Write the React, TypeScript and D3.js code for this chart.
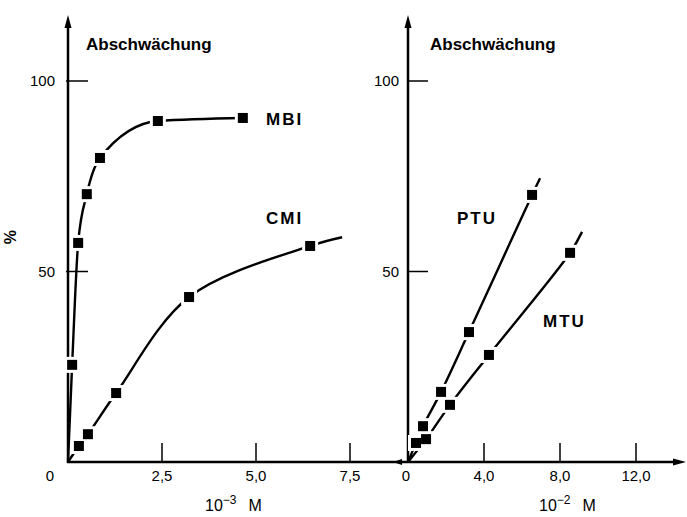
import React from 'react';
import * as d3 from 'd3';

// ---- data ----
const yTicks = [50, 100];
const yTickLabels = ['50', '100'];
const leftXTicks = [2.5, 5.0, 7.5];
const leftXTickLabels = ['2,5', '5,0', '7,5'];
const rightXTicks = [4, 8, 12];
const rightXTickLabels = ['4,0', '8,0', '12,0'];

// left panel (10^-3 M)
const mbiX = [0.11, 0.27, 0.5, 0.85, 2.39, 4.65];
const mbiY = [25.5, 57.5, 70.3, 79.8, 89.5, 90.3];
const cmiX = [0.29, 0.53, 1.28, 3.22, 6.44];
const cmiY = [4.2, 7.3, 18.1, 43.3, 56.7];
const cmiTail = [7.29, 59.0];

// right panel (10^-2 M)
const ptuX = [0.42, 0.79, 1.74, 3.21, 6.53];
const ptuY = [5.0, 9.4, 18.4, 34.1, 70.1];
const ptuTail = [6.95, 74.5];
const mtuX = [0.95, 2.21, 4.26, 8.53];
const mtuY = [6.0, 15.0, 28.1, 54.9];
const mtuTail = [9.16, 60.4];

const origin = [0, 0];

const W = 687;
const H = 517;
const FONT = "'Liberation Sans', Arial, sans-serif";

export default function App() {
  const xL = d3.scaleLinear().domain([0, 7.5]).range([68, 350]);
  const xR = d3.scaleLinear().domain([0, 12]).range([408, 636]);
  const y = d3.scaleLinear().domain([0, 100]).range([462, 81]);

  const mkPts = (xs: number[], ys: number[], tail: number[] | null) => {
    const pts: [number, number][] = [[origin[0], origin[1]]];
    xs.forEach((v, i) => pts.push([v, ys[i]]));
    if (tail) pts.push([tail[0], tail[1]]);
    return pts;
  };

  const lineFor = (xs: d3.ScaleLinear<number, number>, curve: d3.CurveFactory) =>
    d3
      .line<[number, number]>()
      .x((d) => xs(d[0]))
      .y((d) => y(d[1]))
      .curve(curve);

  const catmull = d3.curveCatmullRom.alpha(0.5);
  const series = [
    { xs: xL, X: mbiX, Y: mbiY, tail: null, curve: d3.curveMonotoneX },
    { xs: xL, X: cmiX, Y: cmiY, tail: cmiTail, curve: catmull },
    { xs: xR, X: ptuX, Y: ptuY, tail: ptuTail, curve: catmull },
    { xs: xR, X: mtuX, Y: mtuY, tail: mtuTail, curve: catmull },
  ];

  const ms = 10;
  const axisY = y(0);
  const topY = 15;

  return (
    <svg
      width={W}
      height={H}
      style={{ position: 'absolute', left: 0, top: 0, background: '#fff' }}
      fontFamily={FONT}
    >
      <rect width={W} height={H} fill="#fff" />

      {/* axes */}
      <g stroke="#000" strokeWidth={2.5} fill="none">
        <line x1={xL(0)} y1={axisY + 1} x2={xL(0)} y2={topY + 8} />
        <line x1={xR(0)} y1={axisY + 1} x2={xR(0)} y2={topY + 8} />
        <line x1={xL(0) - 1} y1={axisY} x2={676} y2={axisY} />
      </g>
      {/* arrowheads */}
      <g fill="#000">
        <path d={`M${xL(0)},${topY} L${xL(0) - 3.5},${topY + 13} L${xL(0) + 3.5},${topY + 13} Z`} />
        <path d={`M${xR(0)},${topY} L${xR(0) - 3.5},${topY + 13} L${xR(0) + 3.5},${topY + 13} Z`} />
        <path d={`M686,${axisY} L673,${axisY - 3.5} L673,${axisY + 3.5} Z`} />
        <path d={`M393,${axisY} L402,${axisY - 3} L402,${axisY + 3} Z`} />
      </g>

      {/* ticks */}
      <g stroke="#000" strokeWidth={1.5}>
        {yTicks.map((t) => (
          <line key={'l' + t} x1={xL(0) - 2} x2={xL(0) + 20} y1={y(t)} y2={y(t)} />
        ))}
        {yTicks.map((t) => (
          <line key={'r' + t} x1={xR(0)} x2={xR(0) + 20} y1={y(t)} y2={y(t)} />
        ))}
        {leftXTicks.map((t) => (
          <line key={'xl' + t} x1={xL(t)} x2={xL(t)} y1={axisY - 19} y2={axisY} />
        ))}
        {rightXTicks.map((t) => (
          <line key={'xr' + t} x1={xR(t)} x2={xR(t)} y1={axisY - 19} y2={axisY} />
        ))}
      </g>

      {/* tick labels */}
      <g fontSize={15} fill="#000">
        {yTicks.map((t, i) => (
          <text key={'tl' + t} x={xL(0) - 13} y={y(t) + 5} textAnchor="end">
            {yTickLabels[i]}
          </text>
        ))}
        {yTicks.map((t, i) => (
          <text key={'tr' + t} x={xR(0) - 9} y={y(t) + 5} textAnchor="end">
            {yTickLabels[i]}
          </text>
        ))}
        <text x={50} y={481} textAnchor="middle">0</text>
        {leftXTicks.map((t, i) => (
          <text key={'txl' + t} x={xL(t)} y={481} textAnchor="middle">
            {leftXTickLabels[i]}
          </text>
        ))}
        <text x={xR(0) - 2} y={481} textAnchor="middle">0</text>
        {rightXTicks.map((t, i) => (
          <text key={'txr' + t} x={xR(t)} y={481} textAnchor="middle">
            {rightXTickLabels[i]}
          </text>
        ))}
      </g>

      {/* axis titles */}
      <g fill="#000">
        <text x={86} y={50} fontSize={17} fontWeight="bold">Abschwächung</text>
        <text x={430} y={50} fontSize={17} fontWeight="bold">Abschwächung</text>
        <text
          x={12}
          y={237}
          fontSize={16}
          fontWeight="bold"
          textAnchor="middle"
          transform="rotate(-90 12 237)"
          dominantBaseline="middle"
        >
          %
        </text>
        <text x={205} y={511} fontSize={16}>
          10
          <tspan fontSize={12} dy={-7}>−3</tspan>
          <tspan dy={7} dx={12}>M</tspan>
        </text>
        <text x={539} y={511} fontSize={16}>
          10
          <tspan fontSize={12} dy={-7}>−2</tspan>
          <tspan dy={7} dx={12}>M</tspan>
        </text>
      </g>

      {/* series labels */}
      <g fill="#000" fontSize={17} fontWeight="bold" letterSpacing={2}>
        <text x={266} y={125}>MBI</text>
        <text x={266} y={224}>CMI</text>
        <text x={457} y={224}>PTU</text>
        <text x={543} y={327}>MTU</text>
      </g>

      {/* curves */}
      {series.map((s, i) => (
        <path
          key={'c' + i}
          d={lineFor(s.xs, s.curve)(mkPts(s.X, s.Y, s.tail)) || ''}
          fill="none"
          stroke="#000"
          strokeWidth={2.4}
        />
      ))}

      {/* marker halos */}
      {series.map((s, i) =>
        s.X.map((v, j) => (
          <rect
            key={'h' + i + '-' + j}
            x={s.xs(v) - ms / 2 - 3}
            y={y(s.Y[j]) - ms / 2 - 3}
            width={ms + 6}
            height={ms + 6}
            fill="#fff"
          />
        ))
      )}
      {/* markers */}
      {series.map((s, i) =>
        s.X.map((v, j) => (
          <rect
            key={'k' + i + '-' + j}
            x={s.xs(v) - ms / 2}
            y={y(s.Y[j]) - ms / 2}
            width={ms}
            height={ms}
            fill="#000"
          />
        ))
      )}
    </svg>
  );
}
